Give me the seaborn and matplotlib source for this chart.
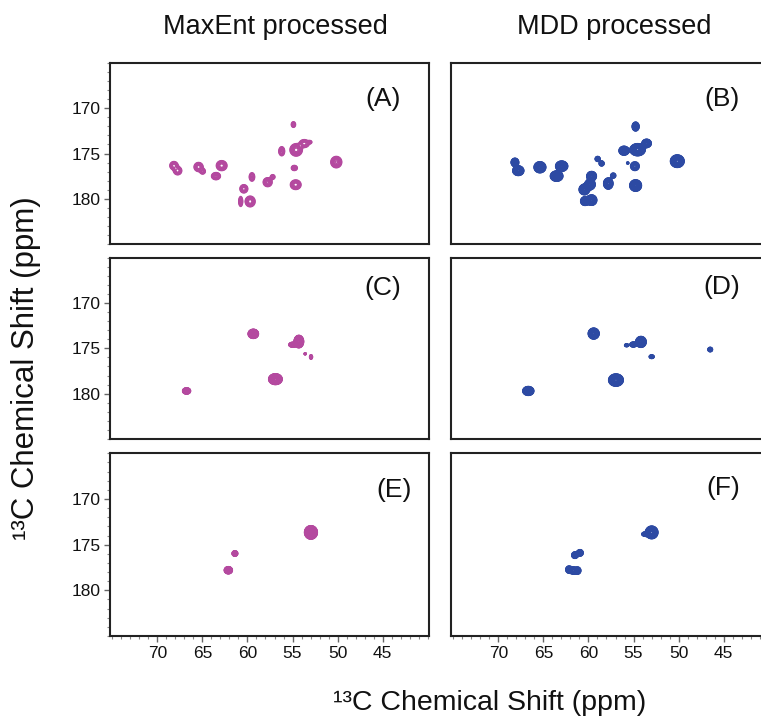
import numpy as np
import matplotlib
matplotlib.use("Agg")
import matplotlib.pyplot as plt
from matplotlib.ticker import MultipleLocator
import seaborn as sns

# ---------------------------------------------------------------------------
# Peak tables (13C shift in ppm along each dimension, Gaussian widths, heights)
# ---------------------------------------------------------------------------
# (A) MaxEnt, full spectrum
A_x = [68.15, 67.74, 65.42, 64.97, 62.86, 63.49, 59.50, 60.40, 59.70, 60.75,
       57.76, 57.20, 56.20, 54.90, 54.60, 53.70, 53.07, 54.80, 54.65, 50.15]
A_y = [176.34, 176.90, 176.49, 176.97, 176.34, 177.50, 177.59, 178.90, 180.30, 180.30,
       178.17, 177.59, 174.75, 171.80, 174.60, 173.90, 173.74, 176.60, 178.45, 175.95]
A_sx = [0.24, 0.24, 0.245, 0.18, 0.29, 0.25, 0.18, 0.23, 0.27, 0.13,
        0.25, 0.17, 0.18, 0.16, 0.32, 0.29, 0.15, 0.20, 0.29, 0.29]
A_sy = [0.24, 0.24, 0.245, 0.18, 0.27, 0.20, 0.28, 0.24, 0.29, 0.33,
        0.25, 0.17, 0.28, 0.21, 0.32, 0.23, 0.12, 0.17, 0.26, 0.30]
A_h = [6, 6, 8, 4, 8, 7, 4, 6, 8, 4,
       7, 3, 5, 3, 10, 6, 2.5, 4, 8, 9]

# (B) MDD, full spectrum
B_x = [68.15, 67.78, 65.38, 62.97, 63.53, 58.98, 58.54, 59.65, 60.46, 59.83,
       60.39, 59.65, 57.80, 57.25, 56.06, 54.77, 54.55, 53.55, 54.85, 54.77,
       50.15, 55.65]
B_y = [175.98, 176.90, 176.52, 176.40, 177.50, 175.60, 176.10, 177.50, 178.98, 178.43,
       180.26, 180.15, 178.32, 177.44, 174.69, 172.02, 174.58, 173.88, 176.40, 178.54,
       175.85, 176.05]
B_sx = [0.21, 0.29, 0.30, 0.31, 0.32, 0.17, 0.17, 0.25, 0.27, 0.27,
        0.23, 0.27, 0.25, 0.22, 0.26, 0.20, 0.37, 0.25, 0.34, 0.30,
        0.33, 0.10]
B_sy = [0.23, 0.25, 0.28, 0.26, 0.26, 0.17, 0.17, 0.24, 0.27, 0.27,
        0.23, 0.27, 0.30, 0.22, 0.23, 0.26, 0.29, 0.22, 0.34, 0.29,
        0.30, 0.10]
B_h = [6, 8, 9, 9, 9, 3, 3, 8, 8, 8,
       7, 8, 7, 2, 8, 5, 12, 7, 2.5, 9,
       12, 1.5]

# (C) MaxEnt, filtered spectrum
C_x = [59.35, 54.30, 55.00, 52.95, 53.60, 56.90, 66.75]
C_y = [173.40, 174.25, 174.60, 175.95, 175.60, 178.40, 179.70]
C_sx = [0.25, 0.23, 0.24, 0.10, 0.085, 0.33, 0.21]
C_sy = [0.22, 0.30, 0.15, 0.15, 0.085, 0.26, 0.16]
C_h = [12, 12, 4, 3, 2, 12, 8]

# (D) MDD, filtered spectrum
D_x = [59.42, 54.18, 55.03, 55.77, 52.99, 56.95, 66.67, 46.50]
D_y = [173.37, 174.29, 174.58, 174.66, 175.92, 178.50, 179.70, 175.13]
D_sx = [0.26, 0.26, 0.21, 0.15, 0.17, 0.34, 0.29, 0.16]
D_sy = [0.26, 0.27, 0.15, 0.10, 0.12, 0.28, 0.23, 0.15]
D_h = [12, 10, 4, 2.5, 3, 15, 8, 3]

# (E) MaxEnt, selective spectrum
E_x = [52.96, 61.39, 62.12]
E_y = [173.66, 175.97, 177.80]
E_sx = [0.30, 0.18, 0.23]
E_sy = [0.31, 0.17, 0.20]
E_h = [15, 4, 6]

# (F) MDD, selective spectrum
F_x = [52.99, 53.74, 61.50, 60.94, 62.16, 61.68, 61.20]
F_y = [173.66, 173.85, 176.15, 175.90, 177.73, 177.84, 177.84]
F_sx = [0.30, 0.22, 0.20, 0.20, 0.20, 0.20, 0.20]
F_sy = [0.30, 0.13, 0.20, 0.20, 0.22, 0.22, 0.22]
F_h = [12, 3, 4, 4, 4, 4, 4]

panel_names = ["(A)", "(B)", "(C)", "(D)", "(E)", "(F)"]
column_titles = ["MaxEnt processed", "MDD processed"]
x_major = [70, 65, 60, 55, 50, 45]
y_major = [170, 175, 180]
axis_label = "¹³C Chemical Shift (ppm)"

# ---------------------------------------------------------------------------
sns.set_theme(style="ticks")
plt.rcParams["font.family"] = ["Liberation Sans", "DejaVu Sans"]

pink = "#b4499f"
blue = "#2d4aa3"

W, H = 761, 717
fig = plt.figure(figsize=(W / 100, H / 100), dpi=100)

xs = np.arange(39.5, 75.6, 0.02)
ys = np.arange(164.8, 185.2, 0.02)
X, Y = np.meshgrid(xs, ys)


def spectrum(px, py, sx, sy, h):
    z = np.zeros((ys.size, xs.size))
    for x0, y0, wx, wy, a in zip(px, py, sx, sy, h):
        gx = np.exp(-0.5 * ((xs - x0) / wx) ** 2)
        gy = np.exp(-0.5 * ((ys - y0) / wy) ** 2)
        z += a * np.outer(gy, gx)
    return z


panels = [
    (A_x, A_y, A_sx, A_sy, A_h, pink, 1.30, 1.0),
    (B_x, B_y, B_sx, B_sy, B_h, blue, 1.12, 1.3),
    (C_x, C_y, C_sx, C_sy, C_h, pink, 1.10, 1.2),
    (D_x, D_y, D_sx, D_sy, D_h, blue, 1.12, 1.3),
    (E_x, E_y, E_sx, E_sy, E_h, pink, 1.10, 1.2),
    (F_x, F_y, F_sx, F_sy, F_h, blue, 1.12, 1.3),
]

# axes boxes in pixels: left, top, right, bottom
col_px = [(110, 429), (451, 770)]
row_px = [(63, 244), (257.7, 439), (453.3, 636)]
label_pos = [(0.911, 0.80), (0.906, 0.80), (0.914, 0.833),
             (0.906, 0.837), (0.946, 0.80), (0.906, 0.808)]

for i, (px, py, sx, sy, h, color, factor, lw) in enumerate(panels):
    r, c = divmod(i, 2)
    l, rgt = col_px[c]
    t, b = row_px[r]
    ax = fig.add_axes([l / W, 1 - b / H, (rgt - l) / W, (b - t) / H])
    z = spectrum(px, py, sx, sy, h)
    n = int(np.log(z.max()) / np.log(factor)) + 1
    levels = factor ** np.arange(0, n)
    ax.contour(X, Y, z, levels=levels, colors=color, linewidths=lw)

    ax.set_xlim(75.24, 39.87)
    ax.set_ylim(185, 165)
    ax.xaxis.set_major_locator(plt.FixedLocator(x_major))
    ax.xaxis.set_minor_locator(MultipleLocator(1))
    ax.yaxis.set_major_locator(plt.FixedLocator(y_major))
    ax.yaxis.set_minor_locator(MultipleLocator(1))
    ax.tick_params(which="major", length=4, width=1, color="#666666",
                   labelsize=12.5, labelcolor="#111111", pad=3)
    ax.tick_params(which="minor", length=2.5, width=0.8, color="#888888")
    if r < 2:
        ax.tick_params(axis="x", which="both", bottom=False, labelbottom=False)
    if c == 1:
        ax.tick_params(axis="y", which="both", left=False, labelleft=False)
    for s in ax.spines.values():
        s.set_linewidth(1.5)
        s.set_color("#222222")
    ax.set_facecolor("white")
    lx, ly = label_pos[i]
    ax.text(lx, ly, panel_names[i], transform=ax.transAxes, ha="right",
            va="center", fontsize=19, color="#111111")

fig.text(275.5 / W, 1 - 34.3 / H, column_titles[0], ha="center",
         va="baseline", fontsize=19.5, color="#111111")
fig.text(614.5 / W, 1 - 34.3 / H, column_titles[1], ha="center",
         va="baseline", fontsize=19.5, color="#111111")
fig.text(333 / W, 1 - 710 / H, axis_label, ha="left", va="baseline",
         fontsize=20.5, color="#111111")
fig.text(41 / W, 1 - 540 / H, axis_label, ha="right", va="bottom",
         rotation=90, fontsize=22.5, color="#111111")

fig.savefig("out.png", dpi=100, facecolor="white")
